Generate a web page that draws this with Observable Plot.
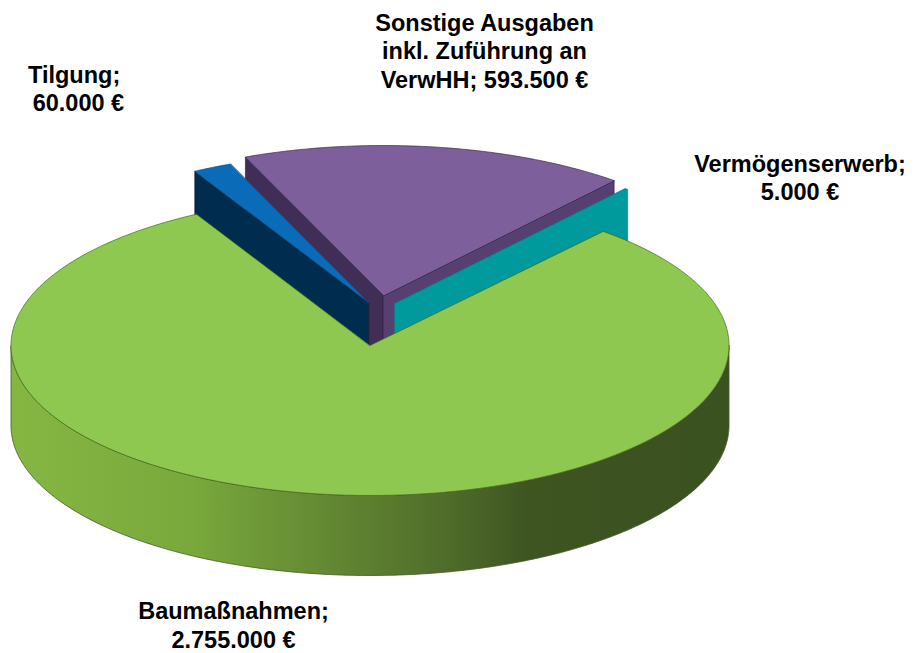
<!DOCTYPE html>
<html>
<head>
<meta charset="utf-8">
<script src="https://cdn.jsdelivr.net/npm/d3@7"></script>
<script src="https://cdn.jsdelivr.net/npm/@observablehq/plot@0.6"></script>
<style>
html,body{margin:0;padding:0;background:#fff}
svg{display:block}
</style>
</head>
<body>
<div id="chart"></div>
<script>
// Data
const categories = ["Baumaßnahmen", "Tilgung", "Sonstige Ausgaben inkl. Zuführung an VerwHH", "Vermögenserwerb"];
const amounts = [2755000, 60000, 593500, 5000];
const labelTexts = [
  "Baumaßnahmen;\n2.755.000 €",
  "Tilgung;\n\u200960.000 €",
  "Sonstige Ausgaben\ninkl. Zuführung an\nVerwHH; 593.500 €",
  "Vermögenserwerb;\n5.000 €"
];
const topColors = ["#8fc851", "#0a6cb8", "#7d5f9c", "#009a9c"];
const cutColors = ["#5f8a30", "#002c50", "#412e57", "#009598"];
const endCutColors = ["#5f8a30", "#002c50", "#574071", "#009598"];
const edgeColors = ["#3d6a18", "#0a4f88", "#3a2a50", "#007a7c"];

// Layout of the pseudo-3D pie (chart space equals pixels)
const W = 914, H = 653;
const pie = {cx: 369.5, cy: 345, rx: 359, ry: 150, depth: 80, startDeg: 40.5};
const explode = [[0, 0], [-1.5, -43], [13.5, -50], [24.5, -42]];
const labelAt = [[233, 624, "middle"], [27.5, 87.5, "start"], [484, 49.5, "middle"], [799.5, 176.5, "middle"]];
const wallStops = [[0, "#86b642"], [0.25, "#79a93c"], [0.4, "#688f35"], [0.61, "#4f6c2a"], [0.72, "#3e5522"], [1, "#3a5120"]];

const total = d3.sum(amounts);
let acc = pie.startDeg;
const slices = amounts.map((v, i) => {
  const a0 = acc; acc += v / total * 360;
  return {i, a0, a1: acc, cx: pie.cx + explode[i][0], cy: pie.cy + explode[i][1]};
});
const rim = (s, deg, drop = 0) => {
  const t = deg * Math.PI / 180;
  return {x: s.cx + pie.rx * Math.sin(t), y: s.cy - pie.ry * Math.cos(t) + drop};
};
const arc = (s, a0, a1, drop = 0) => {
  const n = Math.max(2, Math.ceil(Math.abs(a1 - a0) * 2));
  return d3.range(n + 1).map(k => rim(s, a0 + (a1 - a0) * k / n, drop));
};
const poly = (pts, fill, stroke, strokeWidth = 0.7) =>
  Plot.line(pts, {x: "x", y: "y", fill, stroke, strokeWidth, curve: "linear-closed"});
const apex = (s, drop = 0) => ({x: s.cx, y: s.cy + drop});
const topFace = s => poly([apex(s), ...arc(s, s.a0, s.a1)], topColors[s.i], edgeColors[s.i]);
const cutFace = (s, deg, color) =>
  poly([apex(s), rim(s, deg), rim(s, deg, pie.depth), apex(s, pie.depth)], color, "#1d1630", 0.6);

const [green, blue, purple, teal] = slices;

const marks = [
  // rear exploded slices, back to front
  cutFace(purple, purple.a0, cutColors[2]),
  cutFace(purple, purple.a1, endCutColors[2]),
  topFace(purple),
  poly([apex(teal), rim(teal, teal.a0), rim(teal, teal.a1), rim(teal, teal.a1, pie.depth), apex(teal, pie.depth)], topColors[3], edgeColors[3]),
  cutFace(blue, blue.a0, cutColors[1]),
  topFace(blue),
  // main slice: rim wall, then the top face
  poly([...arc(green, 90, 270), ...arc(green, 270, 90, pie.depth)], "url(#wallGrad)", "#3f5a24", 0.8),
  topFace(green),
  // labels
  ...labelTexts.map((t, i) => Plot.text([t], {
    x: () => labelAt[i][0], y: () => labelAt[i][1], text: d => d,
    textAnchor: labelAt[i][2], lineAnchor: "middle", lineHeight: 1.21,
    fontFamily: "'Liberation Sans', Arial, sans-serif", fontWeight: "bold", fontSize: 23.5, fill: "#000"
  }))
];

const plot = Plot.plot({
  width: W, height: H, margin: 0,
  x: {domain: [0, W], range: [0, W], axis: null},
  y: {domain: [0, H], range: [0, H], axis: null},
  style: {background: "#fff"},
  marks
});

const grad = d3.select(plot).insert("defs", ":first-child")
  .append("linearGradient").attr("id", "wallGrad")
  .attr("x1", 0).attr("x2", 1).attr("y1", 0).attr("y2", 0);
wallStops.forEach(([o, c]) => grad.append("stop").attr("offset", o).attr("stop-color", c));

document.getElementById("chart").appendChild(plot);
</script>
</body>
</html>
